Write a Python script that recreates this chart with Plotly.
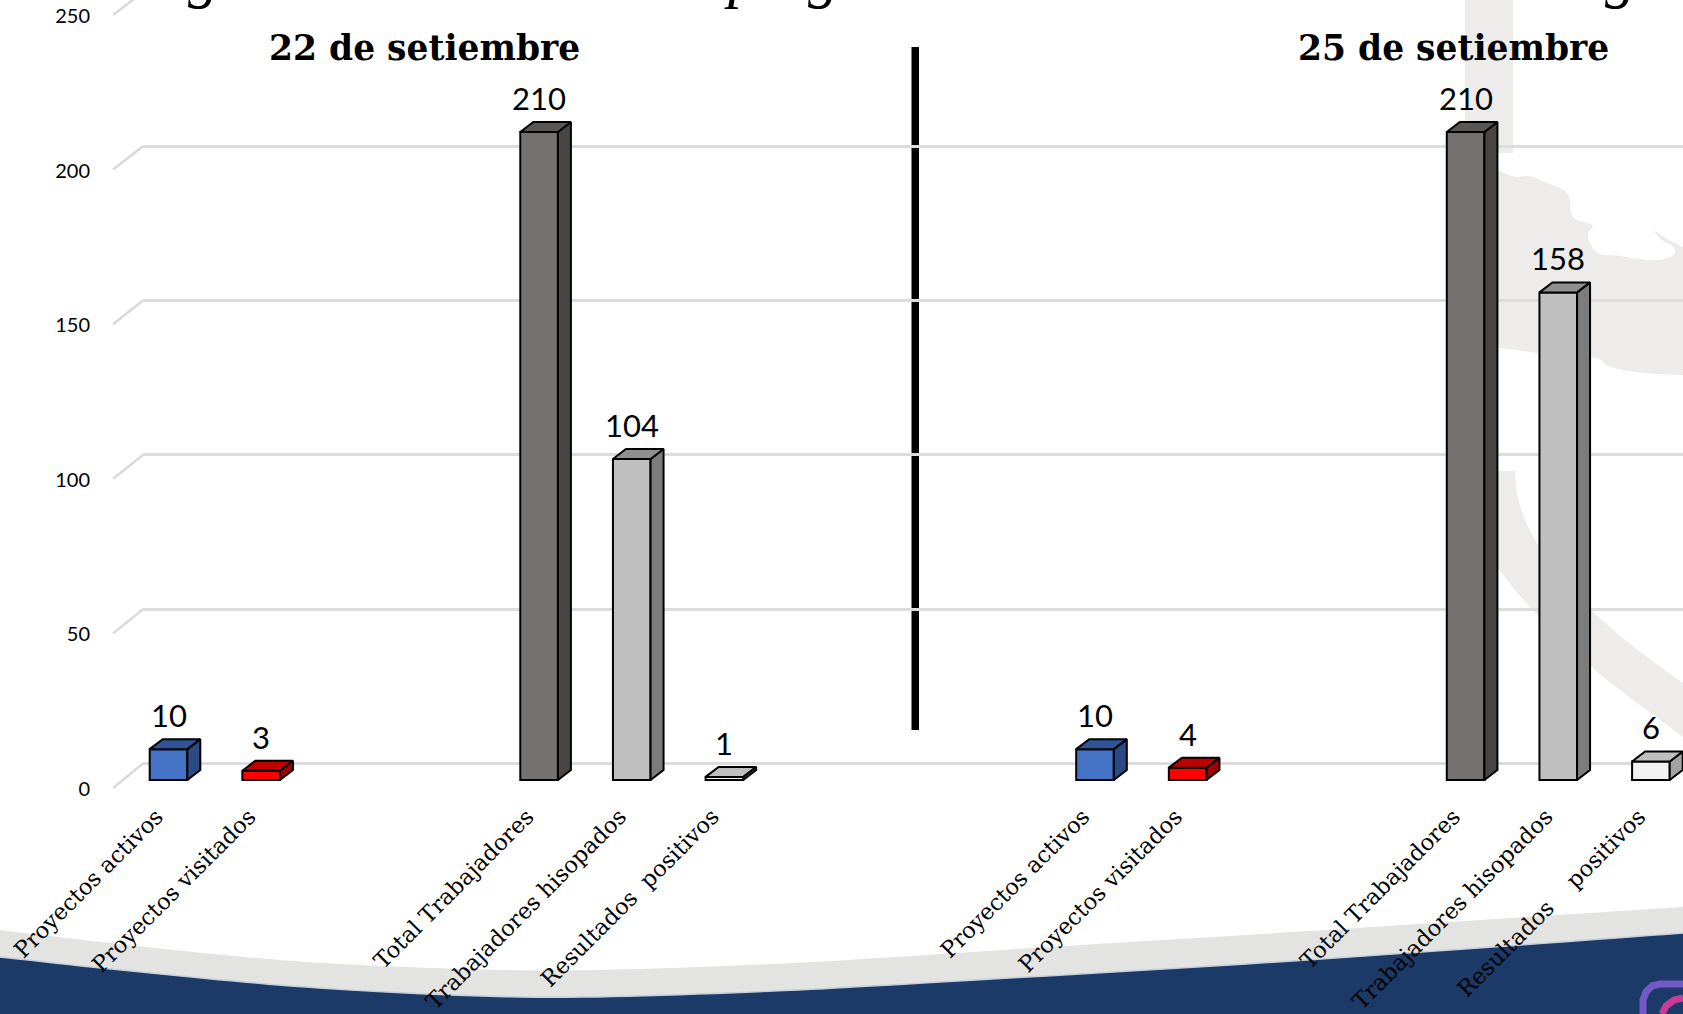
import plotly.graph_objects as go

# ---------- data ----------
positions = [0, 1, 4, 5, 6, 10, 11, 14, 15, 16]
categories = ["Proyectos activos", "Proyectos visitados", "Total Trabajadores",
              "Trabajadores hisopados", "Resultados\u00a0\u00a0positivos",
              "Proyectos activos", "Proyectos visitados", "Total Trabajadores",
              "Trabajadores hisopados", "Resultados\u00a0\u00a0\u00a0\u00a0positivos"]
values = [10, 3, 210, 104, 1, 10, 4, 210, 158, 6]
front_colors = ["#4472C4", "#FF0000", "#767171", "#BFBFBF", "#F2F2F2",
                "#4472C4", "#FF0000", "#767171", "#BFBFBF", "#F2F2F2"]
top_colors = ["#2F5597", "#C00000", "#5A5654", "#8F8F8F", "#BFBFBF",
              "#2F5597", "#C00000", "#5A5654", "#8F8F8F", "#BFBFBF"]
side_colors = ["#2A4A85", "#A00000", "#494543", "#7C7C7C", "#A3A3A3",
               "#2A4A85", "#A00000", "#494543", "#7C7C7C", "#A3A3A3"]
y_ticks = [0, 50, 100, 150, 200, 250]
panel_titles = ["22 de setiembre", "25 de setiembre"]

# ---------- layout geometry (pixels of the 1683x1014 page) ----------
W, H = 1683, 1014
LEFT, BOTTOM = 143, 790          # plot area: x from LEFT to W, y from 0 to BOTTOM
X0_PX, STEP = 168.5, 92.65       # pixel of category 0, pixels per category
PX_PER_UNIT = 3.086              # bars and back wall
LABEL_PX_PER_UNIT = 3.092        # tick labels on the front edge
LABEL_BASE = 789                 # pixel of the tick label 0
BAR_W = 0.406
DX, DY = 13 / STEP, 10 / PX_PER_UNIT   # depth of the 3-D faces in data units
BAR_BASE, BACK_BASE = 780, 763.5 # pixel of value 0 for bars and for the back wall
EDGE = 2


def xp(px):
    return (px - LEFT) / (W - LEFT)


def yp(py):
    return (BOTTOM - py) / BOTTOM


def smooth(points, rounds=3):
    """Round an open outline by corner cutting, keeping its end points."""
    for _ in range(rounds):
        out = [points[0]]
        for (a, b), (c, d) in zip(points, points[1:]):
            out.append((0.75 * a + 0.25 * c, 0.75 * b + 0.25 * d))
            out.append((0.25 * a + 0.75 * c, 0.25 * b + 0.75 * d))
        out.append(points[-1])
        points = out
    return points


def poly(points, close=True):
    d = "M" + " L".join(f"{xp(a):.5f},{yp(b):.5f}" for a, b in points)
    return d + (" Z" if close else "")


def paper_path(points, fill, close=True, line=None, width=0):
    return dict(type="path", xref="paper", yref="paper", layer="below",
                path=poly(points, close), fillcolor=fill,
                line=dict(color=line or "rgba(0,0,0,0)", width=width))


WATERMARK = "#EDECEB"
NONE = "rgba(0,0,0,0)"
GREY_TOP = smooth([(0, 930), (100, 942), (200, 953), (300, 962), (400, 967), (530, 971), (650, 969), (800, 963),
                   (880, 958), (1080, 945), (1280, 933), (1480, 920), (1683, 907)])
NAVY_TOP = smooth([(0, 957), (100, 968), (200, 978), (300, 987), (400, 993), (530, 998), (650, 996), (800, 990),
                   (880, 985.6), (1080, 974), (1280, 962), (1480, 948), (1683, 933)])
shapes = [
    # watermark: vertical stripe
    paper_path([(1465, 0), (1513, 0), (1513, 153), (1465, 153)], WATERMARK),
    # watermark: map outline
    paper_path(smooth([(1480, 168), (1498, 170), (1515, 178), (1530, 175), (1550, 184), (1570, 192), (1570, 217),
                       (1583, 222), (1595, 225), (1588, 232), (1588, 240), (1597, 255), (1615, 255), (1633, 258),
                       (1655, 261), (1673, 257), (1677, 248), (1660, 240), (1652, 228), (1665, 238), (1683, 247)], 2)
               + smooth([(1683, 375), (1655, 374), (1633, 372), (1607, 367), (1600, 357), (1567, 357),
                         (1530, 352), (1500, 348), (1480, 345)], 2), WATERMARK),
    # watermark: curved band
    paper_path([(1465, 471)] + smooth([(1515, 471), (1518, 505), (1538, 547), (1562, 580), (1590, 610), (1633, 647),
                                       (1683, 683)])
               + smooth([(1683, 737), (1633, 700), (1590, 667), (1538, 617), (1498, 570), (1475, 530)]),
               WATERMARK),
    # footer: grey swoosh and navy band
    paper_path(GREY_TOP + [(1683, H), (0, H)], "#E3E3E1"),
    paper_path(NAVY_TOP + [(1683, H), (0, H)], "#1B3A68"),
    paper_path(NAVY_TOP, NONE, close=False, line="#C5D0DE", width=1.5),
    # footer: corner of the social media icon
    paper_path([(1643, H), (1643, 1000), (1646, 992), (1652, 986), (1660, 984), (1683, 984)], NONE,
               close=False, line="#7558C8", width=7),
    paper_path([(1662, H), (1666, 1006), (1674, 1000), (1683, 998)], NONE,
               close=False, line="#CC3A98", width=7),
    # divider between the two panels
    paper_path([(911.5, 47), (919, 47), (919, 730), (911.5, 730)], "#000000"),
]

# sloping floor-to-wall ticks on the left wall, on the label axis
for t in y_ticks:
    front_px = LABEL_BASE - 1 - t * LABEL_PX_PER_UNIT
    back_px = BACK_BASE - t * PX_PER_UNIT
    shapes.append(dict(type="line", xref="paper", yref="y2", x0=xp(113), x1=xp(LEFT),
                       y0=(LABEL_BASE - front_px) / LABEL_PX_PER_UNIT,
                       y1=(LABEL_BASE - back_px) / LABEL_PX_PER_UNIT,
                       line=dict(color="#DADADA", width=2.5)))

fig = go.Figure()

# front faces
fig.add_trace(go.Bar(x=positions, y=values, width=BAR_W,
                     marker=dict(color=front_colors, line=dict(color="#000000", width=EDGE)),
                     hoverinfo="skip"))

# side and top faces, built from the same values
for x, v, tc, sc in zip(positions, values, top_colors, side_colors):
    r = x + BAR_W / 2
    l = x - BAR_W / 2
    fig.add_trace(go.Scatter(x=[r, r + DX, r + DX, r, r], y=[0, DY, v + DY, v, 0], mode="lines",
                             fill="toself", fillcolor=sc, line=dict(color="#000000", width=EDGE),
                             hoverinfo="skip"))
    fig.add_trace(go.Scatter(x=[l, l + DX, r + DX, r, l], y=[v, v + DY, v + DY, v, v], mode="lines",
                             fill="toself", fillcolor=tc, line=dict(color="#000000", width=EDGE),
                             hoverinfo="skip"))

# anchor traces so that the label axis and back-wall axis are drawn
for ax in ("y2", "y3"):
    fig.add_trace(go.Scatter(x=[0], y=[0], yaxis=ax, mode="markers", marker=dict(opacity=0),
                             hoverinfo="skip"))

annotations = []
# data labels
for x, v in zip(positions, values):
    annotations.append(dict(x=x, y=v, xref="x", yref="y", text=str(v), showarrow=False, yanchor="middle",
                            yshift=34, font=dict(family="Lato", size=31, color="#000000")))
# panel titles
for px, t in zip((424, 1453), panel_titles):
    annotations.append(dict(x=xp(px), y=yp(48), xref="paper", yref="paper", text=f"<b>{t}</b>", showarrow=False,
                            xanchor="center", yanchor="middle",
                            font=dict(family="DejaVu Serif", size=34.5, color="#000000")))
# only the descenders of the cropped heading reach the page
for px, letter in zip((203, 741, 823, 1620), "gpgg"):
    annotations.append(dict(x=xp(px), y=yp(-25), xref="paper", yref="paper", text=f"<i>{letter}</i>", showarrow=False,
                            xanchor="center", yanchor="middle",
                            font=dict(family="Liberation Serif", size=62, color="#000000")))

fig.update_layout(
    width=W, height=H, showlegend=False, barmode="overlay",
    margin=dict(l=LEFT, r=0, t=0, b=H - BOTTOM, pad=0, autoexpand=False),
    paper_bgcolor="#FFFFFF", plot_bgcolor="rgba(0,0,0,0)",
    shapes=shapes, annotations=annotations,
    xaxis=dict(range=[(LEFT - X0_PX) / STEP, (W - X0_PX) / STEP], tickmode="array", tickvals=positions,
               ticktext=categories, tickangle=-45, showgrid=False, zeroline=False, showline=False, ticks="",
               ticklabelstandoff=8, ticklabelshift=-12, automargin=False,
               tickfont=dict(family="DejaVu Serif", size=22.5, color="#000000")),
    yaxis=dict(range=[(BAR_BASE - BOTTOM) / PX_PER_UNIT, BAR_BASE / PX_PER_UNIT], showticklabels=False,
               showgrid=False, zeroline=False, showline=False, ticks=""),
    yaxis2=dict(range=[(LABEL_BASE - BOTTOM) / LABEL_PX_PER_UNIT, LABEL_BASE / LABEL_PX_PER_UNIT], overlaying="y",
                side="left", tickmode="array", tickvals=y_ticks,
                showgrid=False, zeroline=False, showline=False, ticks="", ticklabelstandoff=52, automargin=False,
                tickfont=dict(family="Lato", size=20, color="#000000")),
    yaxis3=dict(range=[(BACK_BASE - BOTTOM) / PX_PER_UNIT, BACK_BASE / PX_PER_UNIT], overlaying="y",
                tickmode="array", tickvals=y_ticks, showgrid=True, gridcolor="#DCDCDC", gridwidth=2.5,
                zeroline=False, showline=False, ticks="", showticklabels=False),
)

fig.write_html("out.html", config=dict(displayModeBar=False),
               post_script="document.body.style.margin='0';document.body.style.overflow='hidden';")
